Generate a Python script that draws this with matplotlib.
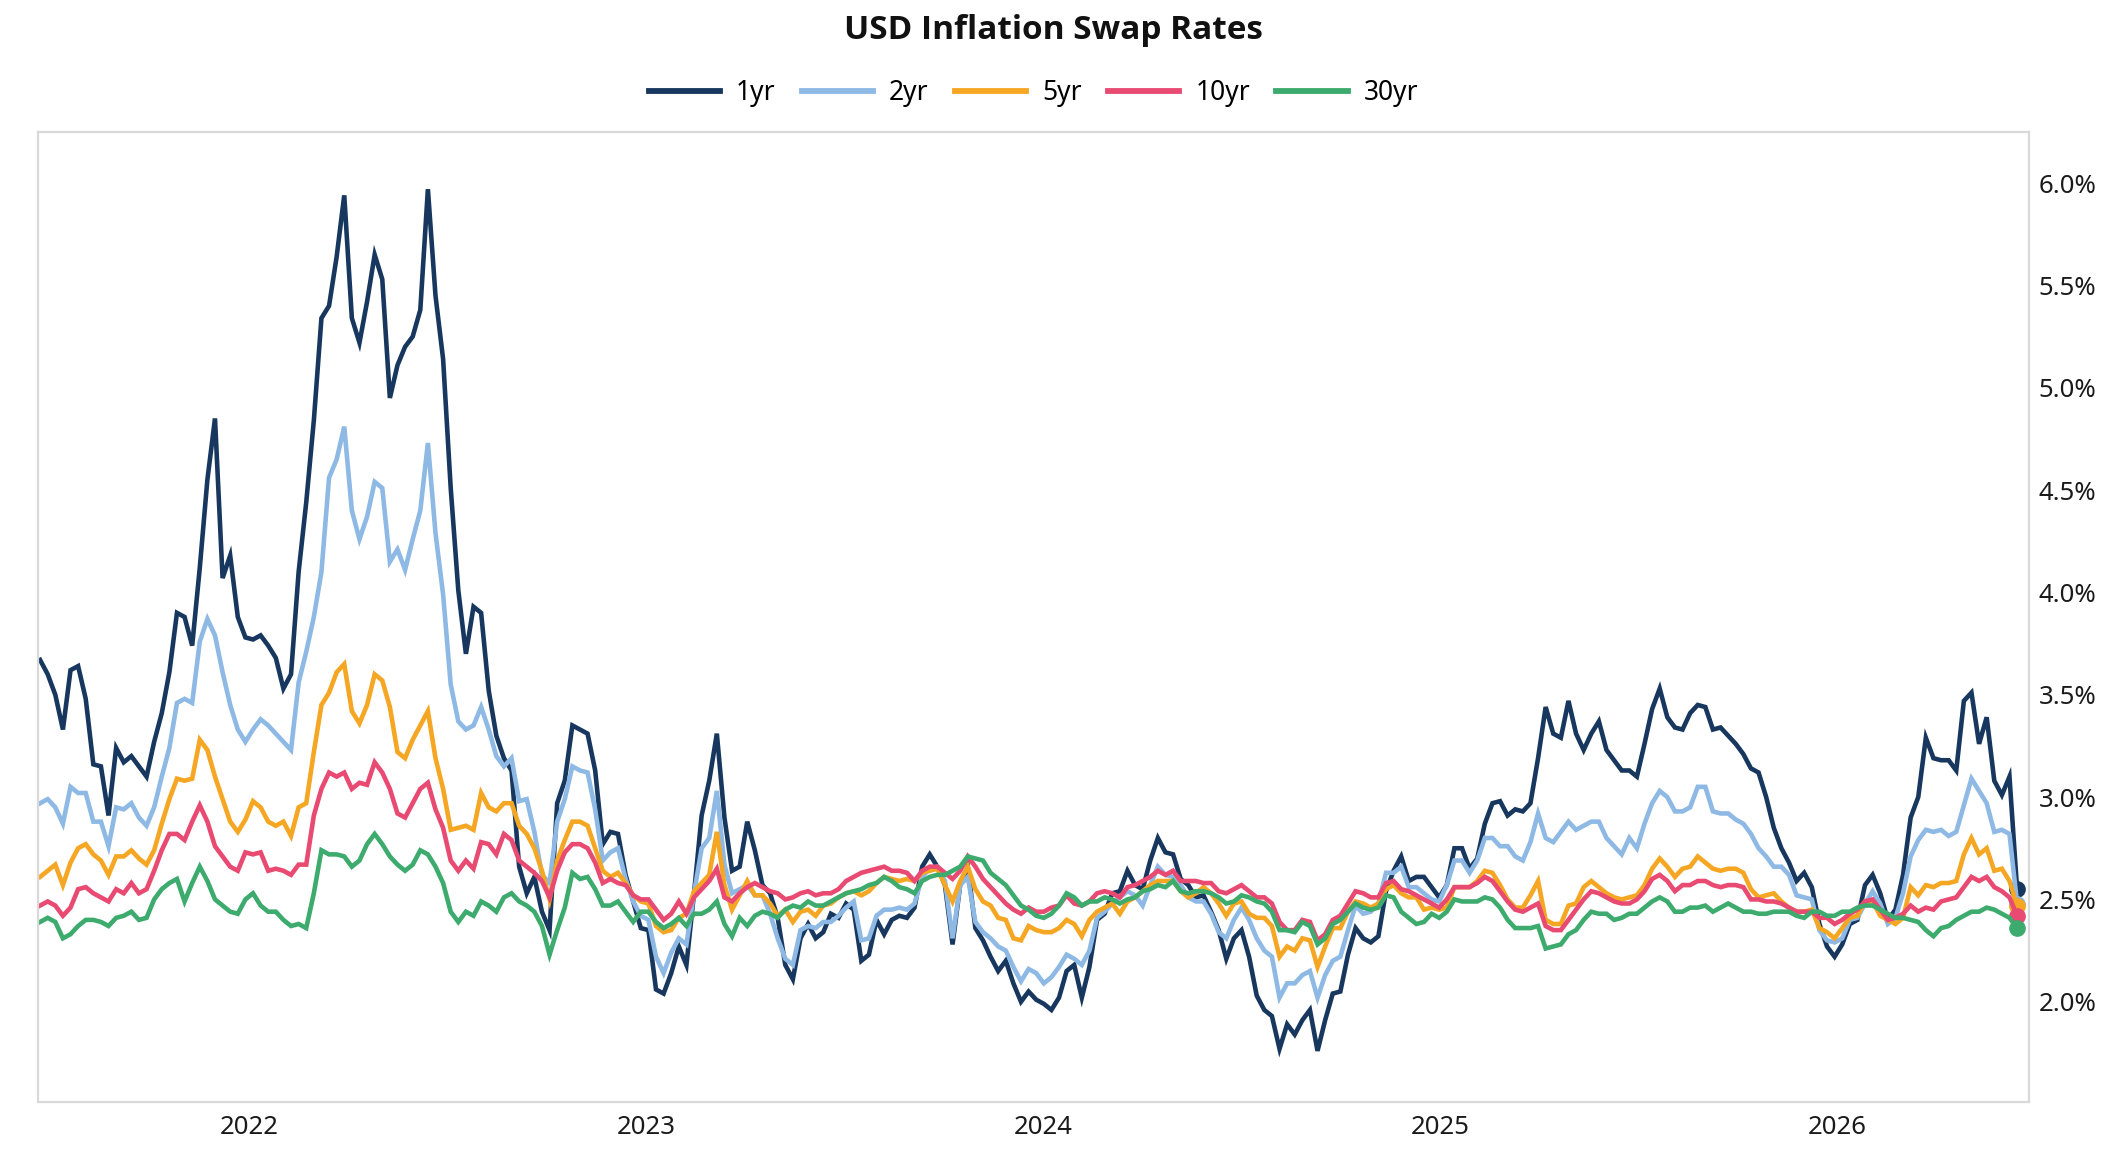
import pandas as pd
import matplotlib
matplotlib.use("Agg")
import matplotlib.pyplot as plt
import matplotlib.dates as mdates
from matplotlib.ticker import FixedLocator, FuncFormatter

plt.rcParams['font.family'] = ['Noto Sans', 'DejaVu Sans']

# weekly fixings, 2021-06-22 .. 2026-06-16
dates = pd.date_range('2021-06-22', periods=261, freq='7D')

swap_1yr = [
    3.67, 3.60, 3.50, 3.33, 3.62, 3.64, 3.48, 3.16, 3.15, 2.91,
    3.24, 3.17, 3.20, 3.15, 3.10, 3.27, 3.41, 3.61, 3.90, 3.88,
    3.74, 4.12, 4.55, 4.85, 4.07, 4.18, 3.88, 3.78, 3.77, 3.79,
    3.74, 3.68, 3.53, 3.60, 4.10, 4.44, 4.84, 5.34, 5.40, 5.64,
    5.94, 5.34, 5.22, 5.42, 5.65, 5.53, 4.95, 5.11, 5.20, 5.25,
    5.38, 5.97, 5.45, 5.14, 4.51, 4.01, 3.70, 3.93, 3.90, 3.52,
    3.30, 3.19, 3.13, 2.66, 2.53, 2.61, 2.44, 2.35, 2.97, 3.08,
    3.35, 3.33, 3.31, 3.13, 2.77, 2.83, 2.82, 2.62, 2.49, 2.36,
    2.35, 2.06, 2.04, 2.14, 2.27, 2.18, 2.53, 2.91, 3.08, 3.31,
    2.90, 2.64, 2.66, 2.88, 2.74, 2.57, 2.53, 2.41, 2.18, 2.11,
    2.31, 2.38, 2.31, 2.34, 2.43, 2.41, 2.48, 2.45, 2.20, 2.23,
    2.40, 2.33, 2.40, 2.42, 2.41, 2.46, 2.66, 2.72, 2.66, 2.57,
    2.28, 2.57, 2.66, 2.36, 2.30, 2.22, 2.15, 2.20, 2.09, 2.00,
    2.05, 2.01, 1.99, 1.96, 2.02, 2.15, 2.18, 2.02, 2.17, 2.40,
    2.43, 2.53, 2.54, 2.64, 2.57, 2.55, 2.69, 2.80, 2.73, 2.72,
    2.60, 2.57, 2.51, 2.52, 2.44, 2.35, 2.21, 2.31, 2.35, 2.22,
    2.03, 1.96, 1.93, 1.77, 1.89, 1.84, 1.91, 1.96, 1.76, 1.91,
    2.04, 2.05, 2.23, 2.36, 2.31, 2.29, 2.32, 2.54, 2.64, 2.71,
    2.59, 2.61, 2.61, 2.56, 2.51, 2.57, 2.75, 2.75, 2.65, 2.70,
    2.87, 2.97, 2.98, 2.91, 2.94, 2.93, 2.97, 3.19, 3.44, 3.31,
    3.29, 3.47, 3.31, 3.23, 3.31, 3.37, 3.23, 3.18, 3.13, 3.13,
    3.10, 3.26, 3.43, 3.53, 3.39, 3.34, 3.33, 3.41, 3.45, 3.44,
    3.33, 3.34, 3.30, 3.26, 3.21, 3.14, 3.12, 3.00, 2.85, 2.75,
    2.68, 2.59, 2.63, 2.56, 2.38, 2.27, 2.22, 2.28, 2.38, 2.40,
    2.57, 2.62, 2.53, 2.40, 2.45, 2.62, 2.90, 3.00, 3.29, 3.19,
    3.18, 3.18, 3.13, 3.47, 3.51, 3.26, 3.39, 3.08, 3.01, 3.10,
    2.55,
]

swap_2yr = [
    2.97, 2.99, 2.95, 2.87, 3.05, 3.02, 3.02, 2.88, 2.88, 2.76,
    2.95, 2.94, 2.97, 2.90, 2.86, 2.95, 3.10, 3.24, 3.46, 3.48,
    3.46, 3.76, 3.87, 3.79, 3.61, 3.45, 3.33, 3.27, 3.33, 3.38,
    3.35, 3.31, 3.27, 3.23, 3.56, 3.71, 3.88, 4.10, 4.56, 4.65,
    4.81, 4.40, 4.26, 4.37, 4.54, 4.51, 4.15, 4.21, 4.11, 4.26,
    4.40, 4.73, 4.29, 3.99, 3.55, 3.37, 3.33, 3.35, 3.44, 3.33,
    3.20, 3.15, 3.19, 2.98, 2.99, 2.83, 2.62, 2.58, 2.88, 2.99,
    3.15, 3.13, 3.12, 2.94, 2.69, 2.73, 2.75, 2.60, 2.49, 2.42,
    2.40, 2.22, 2.14, 2.24, 2.31, 2.28, 2.53, 2.75, 2.80, 3.03,
    2.67, 2.53, 2.55, 2.57, 2.52, 2.52, 2.43, 2.31, 2.21, 2.18,
    2.35, 2.37, 2.36, 2.39, 2.39, 2.42, 2.46, 2.49, 2.30, 2.31,
    2.42, 2.45, 2.45, 2.46, 2.45, 2.48, 2.61, 2.65, 2.66, 2.59,
    2.31, 2.57, 2.61, 2.39, 2.34, 2.31, 2.27, 2.25, 2.17, 2.10,
    2.16, 2.14, 2.09, 2.12, 2.17, 2.23, 2.21, 2.18, 2.25, 2.41,
    2.44, 2.48, 2.51, 2.54, 2.52, 2.47, 2.57, 2.66, 2.62, 2.61,
    2.57, 2.51, 2.49, 2.49, 2.43, 2.34, 2.31, 2.40, 2.46, 2.40,
    2.31, 2.25, 2.22, 2.02, 2.09, 2.09, 2.13, 2.15, 2.02, 2.13,
    2.20, 2.22, 2.35, 2.47, 2.43, 2.44, 2.48, 2.63, 2.63, 2.66,
    2.56, 2.56, 2.53, 2.50, 2.49, 2.57, 2.69, 2.69, 2.63, 2.69,
    2.80, 2.80, 2.76, 2.76, 2.71, 2.69, 2.78, 2.92, 2.80, 2.78,
    2.83, 2.88, 2.84, 2.86, 2.88, 2.88, 2.80, 2.76, 2.72, 2.80,
    2.75, 2.87, 2.97, 3.03, 3.00, 2.93, 2.93, 2.95, 3.05, 3.05,
    2.93, 2.92, 2.92, 2.89, 2.87, 2.82, 2.75, 2.71, 2.66, 2.66,
    2.62, 2.52, 2.51, 2.50, 2.35, 2.30, 2.29, 2.31, 2.40, 2.41,
    2.48, 2.54, 2.48, 2.38, 2.41, 2.53, 2.71, 2.79, 2.84, 2.83,
    2.84, 2.81, 2.83, 2.96, 3.09, 3.03, 2.97, 2.83, 2.84, 2.82,
    2.48,
]

swap_5yr = [
    2.61, 2.64, 2.67, 2.57, 2.68, 2.75, 2.77, 2.72, 2.69, 2.62,
    2.71, 2.71, 2.74, 2.70, 2.67, 2.74, 2.87, 2.99, 3.09, 3.08,
    3.09, 3.28, 3.23, 3.10, 2.99, 2.88, 2.83, 2.89, 2.98, 2.95,
    2.88, 2.86, 2.88, 2.81, 2.95, 2.97, 3.22, 3.45, 3.51, 3.61,
    3.65, 3.42, 3.36, 3.45, 3.60, 3.57, 3.44, 3.22, 3.19, 3.28,
    3.35, 3.42, 3.19, 3.04, 2.84, 2.85, 2.86, 2.84, 3.02, 2.95,
    2.93, 2.97, 2.97, 2.86, 2.82, 2.75, 2.64, 2.50, 2.69, 2.79,
    2.88, 2.88, 2.86, 2.75, 2.64, 2.61, 2.63, 2.58, 2.52, 2.49,
    2.48, 2.37, 2.34, 2.35, 2.41, 2.43, 2.54, 2.58, 2.62, 2.83,
    2.57, 2.45, 2.52, 2.59, 2.52, 2.52, 2.48, 2.42, 2.45, 2.39,
    2.44, 2.45, 2.42, 2.47, 2.48, 2.51, 2.53, 2.54, 2.52, 2.54,
    2.58, 2.61, 2.60, 2.59, 2.60, 2.59, 2.63, 2.64, 2.65, 2.57,
    2.49, 2.59, 2.66, 2.55, 2.49, 2.47, 2.41, 2.40, 2.31, 2.30,
    2.37, 2.35, 2.34, 2.34, 2.36, 2.40, 2.38, 2.32, 2.40, 2.44,
    2.46, 2.48, 2.43, 2.49, 2.51, 2.54, 2.57, 2.59, 2.59, 2.59,
    2.54, 2.51, 2.53, 2.56, 2.53, 2.48, 2.42, 2.48, 2.49, 2.43,
    2.41, 2.41, 2.37, 2.22, 2.27, 2.25, 2.31, 2.30, 2.17, 2.27,
    2.36, 2.36, 2.44, 2.49, 2.48, 2.46, 2.48, 2.55, 2.57, 2.53,
    2.51, 2.51, 2.45, 2.46, 2.45, 2.46, 2.56, 2.56, 2.56, 2.59,
    2.64, 2.63, 2.57, 2.50, 2.46, 2.46, 2.52, 2.59, 2.40, 2.38,
    2.38, 2.47, 2.48, 2.56, 2.59, 2.56, 2.53, 2.51, 2.50, 2.51,
    2.52, 2.57, 2.65, 2.70, 2.66, 2.61, 2.65, 2.66, 2.71, 2.68,
    2.65, 2.64, 2.65, 2.65, 2.63, 2.55, 2.51, 2.52, 2.53, 2.49,
    2.46, 2.44, 2.44, 2.45, 2.36, 2.34, 2.31, 2.36, 2.41, 2.42,
    2.49, 2.49, 2.42, 2.40, 2.38, 2.41, 2.56, 2.52, 2.57, 2.56,
    2.58, 2.58, 2.59, 2.72, 2.80, 2.72, 2.75, 2.64, 2.65, 2.59,
    2.47,
]

swap_10yr = [
    2.47, 2.49, 2.47, 2.42, 2.46, 2.55, 2.56, 2.53, 2.51, 2.49,
    2.55, 2.53, 2.58, 2.53, 2.55, 2.64, 2.74, 2.82, 2.82, 2.79,
    2.88, 2.96, 2.88, 2.76, 2.71, 2.66, 2.64, 2.73, 2.72, 2.73,
    2.64, 2.65, 2.64, 2.62, 2.67, 2.67, 2.91, 3.04, 3.12, 3.10,
    3.12, 3.04, 3.07, 3.06, 3.17, 3.12, 3.04, 2.92, 2.90, 2.97,
    3.04, 3.07, 2.94, 2.85, 2.69, 2.64, 2.69, 2.65, 2.78, 2.77,
    2.72, 2.82, 2.79, 2.69, 2.66, 2.63, 2.59, 2.51, 2.64, 2.73,
    2.77, 2.77, 2.75, 2.68, 2.58, 2.60, 2.58, 2.57, 2.52, 2.50,
    2.50, 2.45, 2.40, 2.43, 2.49, 2.43, 2.51, 2.55, 2.59, 2.65,
    2.51, 2.49, 2.53, 2.56, 2.58, 2.56, 2.54, 2.53, 2.50, 2.51,
    2.53, 2.54, 2.52, 2.53, 2.53, 2.55, 2.59, 2.61, 2.63, 2.64,
    2.65, 2.66, 2.64, 2.64, 2.63, 2.59, 2.64, 2.66, 2.66, 2.63,
    2.60, 2.64, 2.71, 2.66, 2.60, 2.56, 2.52, 2.48, 2.45, 2.43,
    2.46, 2.44, 2.44, 2.46, 2.47, 2.52, 2.48, 2.47, 2.49, 2.53,
    2.54, 2.53, 2.51, 2.56, 2.57, 2.59, 2.61, 2.64, 2.62, 2.64,
    2.59, 2.59, 2.59, 2.58, 2.58, 2.54, 2.53, 2.55, 2.57, 2.54,
    2.51, 2.51, 2.48, 2.39, 2.35, 2.35, 2.40, 2.39, 2.30, 2.33,
    2.40, 2.42, 2.48, 2.54, 2.53, 2.51, 2.51, 2.58, 2.59, 2.55,
    2.54, 2.52, 2.50, 2.48, 2.46, 2.50, 2.56, 2.56, 2.56, 2.58,
    2.61, 2.59, 2.54, 2.49, 2.45, 2.44, 2.46, 2.48, 2.37, 2.35,
    2.35, 2.40, 2.45, 2.50, 2.54, 2.53, 2.51, 2.49, 2.48, 2.48,
    2.50, 2.54, 2.60, 2.62, 2.59, 2.54, 2.57, 2.57, 2.59, 2.59,
    2.57, 2.56, 2.57, 2.57, 2.56, 2.50, 2.50, 2.49, 2.49, 2.48,
    2.46, 2.44, 2.44, 2.44, 2.41, 2.41, 2.38, 2.40, 2.43, 2.45,
    2.49, 2.50, 2.45, 2.40, 2.41, 2.43, 2.47, 2.44, 2.46, 2.45,
    2.49, 2.50, 2.51, 2.56, 2.61, 2.59, 2.61, 2.56, 2.54, 2.51,
    2.42,
]

swap_30yr = [
    2.39, 2.41, 2.39, 2.31, 2.33, 2.37, 2.40, 2.40, 2.39, 2.37,
    2.41, 2.42, 2.44, 2.40, 2.41, 2.50, 2.55, 2.58, 2.60, 2.49,
    2.58, 2.66, 2.59, 2.50, 2.47, 2.44, 2.43, 2.50, 2.53, 2.47,
    2.44, 2.44, 2.40, 2.37, 2.38, 2.36, 2.53, 2.74, 2.72, 2.72,
    2.71, 2.66, 2.69, 2.77, 2.82, 2.77, 2.71, 2.67, 2.64, 2.67,
    2.74, 2.72, 2.66, 2.58, 2.44, 2.39, 2.44, 2.42, 2.49, 2.47,
    2.44, 2.51, 2.53, 2.49, 2.47, 2.44, 2.37, 2.23, 2.35, 2.46,
    2.63, 2.60, 2.61, 2.55, 2.47, 2.47, 2.49, 2.44, 2.39, 2.44,
    2.44, 2.39, 2.36, 2.38, 2.41, 2.37, 2.43, 2.43, 2.45, 2.49,
    2.38, 2.32, 2.41, 2.37, 2.42, 2.44, 2.43, 2.41, 2.45, 2.47,
    2.46, 2.49, 2.47, 2.47, 2.49, 2.51, 2.53, 2.54, 2.55, 2.57,
    2.58, 2.61, 2.59, 2.56, 2.55, 2.53, 2.59, 2.61, 2.62, 2.62,
    2.64, 2.66, 2.71, 2.70, 2.69, 2.63, 2.60, 2.57, 2.52, 2.47,
    2.45, 2.42, 2.41, 2.43, 2.47, 2.53, 2.51, 2.47, 2.49, 2.49,
    2.51, 2.50, 2.48, 2.50, 2.51, 2.54, 2.55, 2.57, 2.56, 2.59,
    2.54, 2.53, 2.54, 2.54, 2.53, 2.51, 2.48, 2.49, 2.52, 2.51,
    2.49, 2.48, 2.44, 2.35, 2.35, 2.34, 2.39, 2.37, 2.28, 2.31,
    2.38, 2.40, 2.44, 2.48, 2.46, 2.45, 2.46, 2.52, 2.51, 2.44,
    2.41, 2.38, 2.39, 2.43, 2.41, 2.44, 2.50, 2.49, 2.49, 2.49,
    2.51, 2.50, 2.46, 2.40, 2.36, 2.36, 2.36, 2.37, 2.26, 2.27,
    2.28, 2.33, 2.35, 2.40, 2.44, 2.43, 2.43, 2.40, 2.41, 2.43,
    2.43, 2.46, 2.49, 2.51, 2.49, 2.44, 2.44, 2.46, 2.46, 2.47,
    2.44, 2.46, 2.48, 2.46, 2.44, 2.44, 2.43, 2.43, 2.44, 2.44,
    2.44, 2.42, 2.41, 2.44, 2.44, 2.42, 2.42, 2.44, 2.44, 2.46,
    2.47, 2.47, 2.45, 2.43, 2.41, 2.41, 2.40, 2.39, 2.35, 2.32,
    2.36, 2.37, 2.40, 2.42, 2.44, 2.44, 2.46, 2.45, 2.43, 2.41,
    2.36,
]

labels = ['1yr', '2yr', '5yr', '10yr', '30yr']
series = [swap_1yr, swap_2yr, swap_5yr, swap_10yr, swap_30yr]
colors = ['#17375e', '#8db9e4', '#f5a623', '#e84a72', '#3dab6d']

year_ticks = ['2022-01-01', '2023-01-01', '2024-01-01', '2025-01-01', '2026-01-01']
year_labels = ['2022', '2023', '2024', '2025', '2026']
y_ticks = [2.0, 2.5, 3.0, 3.5, 4.0, 4.5, 5.0, 5.5, 6.0]

fig = plt.figure(figsize=(21.07, 11.57), dpi=100)
ax = fig.add_axes([0.018, 0.0475, 0.945, 0.8385])

for vals, lab, col in zip(series, labels, colors):
    ax.plot(dates, vals, color=col, lw=3.3, label=lab, solid_joinstyle='miter')
    ax.plot(dates[-1], vals[-1], 'o', color=col, ms=11)

ax.set_xlim(pd.Timestamp('2021-06-20'), pd.Timestamp('2026-06-27'))
ax.set_ylim(1.51, 6.25)

ax.xaxis.set_major_locator(FixedLocator(mdates.date2num(pd.to_datetime(year_ticks))))
ax.set_xticklabels(year_labels)
ax.yaxis.tick_right()
ax.yaxis.set_major_locator(FixedLocator(y_ticks))
ax.yaxis.set_major_formatter(FuncFormatter(lambda v, p: f'{v:.1f}%'))
ax.tick_params(axis='both', length=0, labelsize=18.5, colors='#1a1a1a')
ax.tick_params(axis='x', pad=9)
ax.tick_params(axis='y', pad=7)

for sp in ax.spines.values():
    sp.set_color('#d9d9d9')
    sp.set_linewidth(1.6)

fig.suptitle('USD Inflation Swap Rates', x=0.5, y=0.988, fontsize=24,
             fontweight='bold', family=['Open Sans', 'Lato', 'DejaVu Sans'],
             color='#111111')

leg = ax.legend(loc='center', bbox_to_anchor=(0.5, 1.040), ncol=5, frameon=False,
                fontsize=19, handlelength=2.7, handletextpad=0.6,
                columnspacing=1.0)
for h in leg.legend_handles:
    h.set_linewidth(4.2)

fig.savefig('out.png', dpi=100)
